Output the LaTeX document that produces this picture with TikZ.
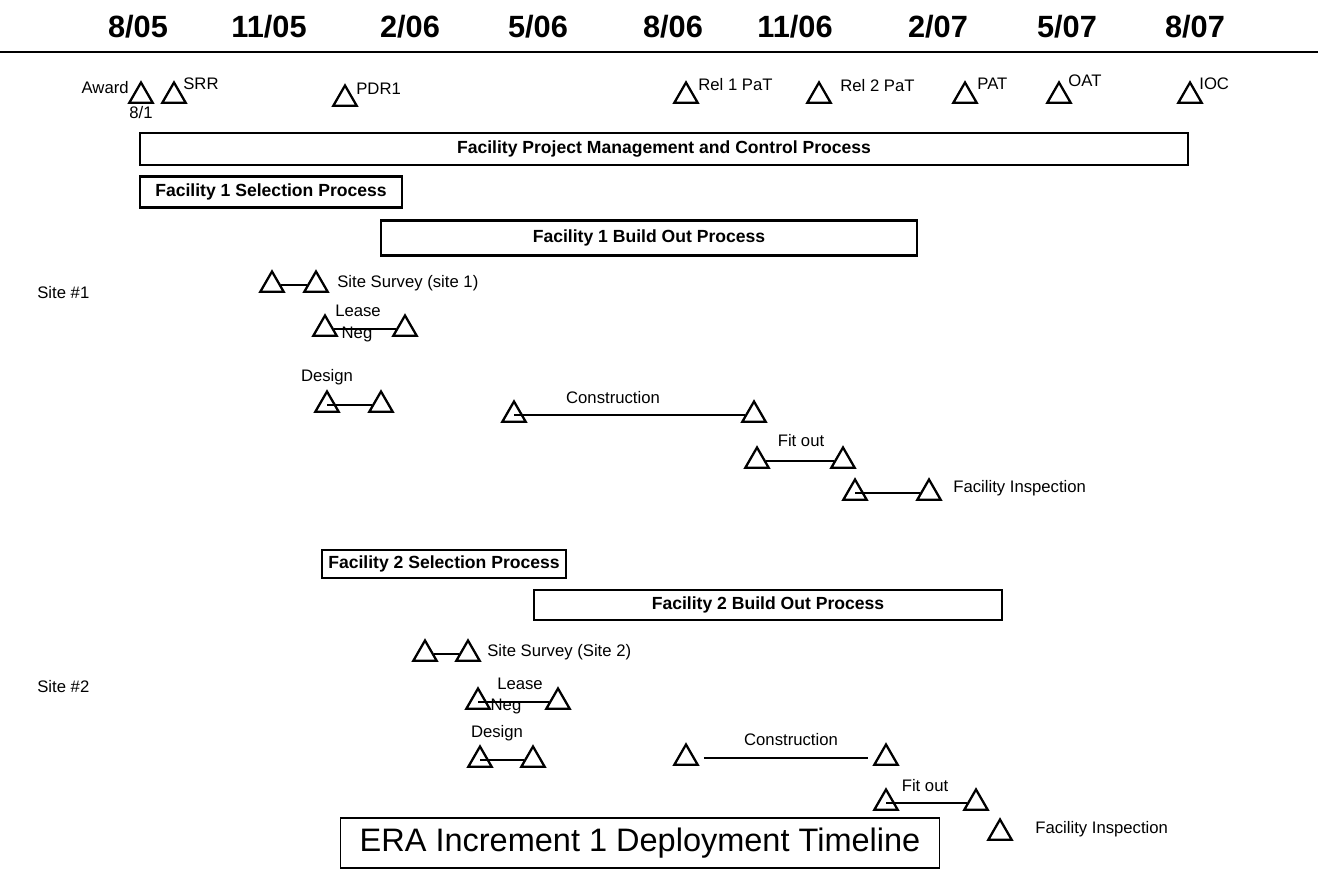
\documentclass[tikz,border=0pt]{standalone}
\usepackage{fontspec}
\setmainfont{Liberation Sans}
\usetikzlibrary{shapes.geometric}
\usetikzlibrary{positioning}
\tikzset{>=latex}

\begin{document}
\begin{tikzpicture}[x=0.02cm, y=-0.02cm,
		ms/.style={regular polygon, regular polygon sides=3, draw, line width=1.3pt, minimum size=0.54cm, inner sep=0pt, yshift=-0.06cm},
		lbl/.style={inner sep=0pt, font=\fontsize{9.5}{11}\selectfont},
		proc/.style={draw, line width=1.2pt, inner sep=0pt, font=\bfseries\fontsize{10}{12}\selectfont},
		date/.style={inner sep=0pt, font=\bfseries\fontsize{17.5}{20}\selectfont},
		bar/.style={line width=1pt}]
		\useasboundingbox (0,0) rectangle (1318,878);
		% time axis
		\node[date] (d1) at (138,27) {8/05};
		\node[date] (d2) at (269,27) {11/05};
		\node[date] (d3) at (410,27) {2/06};
		\node[date] (d4) at (538,27) {5/06};
		\node[date] (d5) at (673,27) {8/06};
		\node[date] (d6) at (795,27) {11/06};
		\node[date] (d7) at (938,27) {2/07};
		\node[date] (d8) at (1067,27) {5/07};
		\node[date] (d9) at (1195,27) {8/07};
		\coordinate (rl) at (0,52);
		\coordinate (rr) at (1318,52);
		\draw[line width=1.2pt] (rl) -- (rr);
		% milestones
		\node[ms] (aw) at (141,93) {};
		\node[ms] (srr) at (174,93) {};
		\node[ms] (pdr) at (345,96) {};
		\node[ms] (rel1) at (686,93) {};
		\node[ms] (rel2) at (819,93) {};
		\node[ms] (pat) at (965,93) {};
		\node[ms] (oat) at (1059,93) {};
		\node[ms] (ioc) at (1190,93) {};
		\node[lbl, anchor=east] (awl) at (129,88) {Award};
		\node[lbl] (awd) at (141,113) {8/1};
		\node[lbl, anchor=west] (srrl) at (183,84) {SRR};
		\node[lbl, anchor=west] (pdrl) at (356,89) {PDR1};
		\node[lbl, anchor=west] (rel1l) at (698,85) {Rel 1 PaT};
		\node[lbl, anchor=west] (rel2l) at (840,86) {Rel 2 PaT};
		\node[lbl, anchor=west] (patl) at (977,84) {PAT};
		\node[lbl, anchor=west] (oatl) at (1068,81) {OAT};
		\node[lbl, anchor=west] (iocl) at (1199,84) {IOC};
		% processes
		\node[proc, minimum width=20.96cm, minimum height=0.64cm] (pm) at (664,149) {Facility Project Management and Control Process};
		\node[proc, minimum width=5.24cm, minimum height=0.62cm] (f1s) at (271,192) {Facility 1 Selection Process};
		\node[proc, minimum width=10.72cm, minimum height=0.7cm] (f1b) at (649,238) {Facility 1 Build Out Process};
		\node[proc, minimum width=4.88cm, minimum height=0.56cm] (f2s) at (444,564) {Facility 2 Selection Process};
		\node[proc, minimum width=9.36cm, minimum height=0.6cm] (f2b) at (768,605) {Facility 2 Build Out Process};
		% site 1
		\node[lbl, anchor=west] (site1) at (37,293) {Site \#1};
		\node[ms] (ss1a) at (272,282) {};
		\node[ms] (ss1b) at (316,282) {};
		\node[lbl, anchor=west] (ss1l) at (337,283) {Site Survey (site 1)};
		\node[ms] (ln1a) at (325,326) {};
		\node[ms] (ln1b) at (405,326) {};
		\node[lbl] (ln1t) at (358,311) {Lease};
		\node[lbl] (ln1n) at (357,334) {Neg};
		\node[ms] (dg1a) at (327,402) {};
		\node[ms] (dg1b) at (381,402) {};
		\node[lbl] (dg1l) at (327,377) {Design};
		\node[ms] (cn1a) at (514,412) {};
		\node[ms] (cn1b) at (754,412) {};
		\node[lbl] (cn1l) at (613,398) {Construction};
		\node[ms] (fo1a) at (757,458) {};
		\node[ms] (fo1b) at (843,458) {};
		\node[lbl] (fo1l) at (801,441) {Fit out};
		\node[ms] (fi1a) at (855,490) {};
		\node[ms] (fi1b) at (929,490) {};
		\node[lbl, anchor=west] (fi1l) at (953,488) {Facility Inspection};
		% site 2
		\node[lbl, anchor=west] (site2) at (37,687) {Site \#2};
		\node[ms] (ss2a) at (425,651) {};
		\node[ms] (ss2b) at (468,651) {};
		\node[lbl, anchor=west] (ss2l) at (487,652) {Site Survey (Site 2)};
		\node[ms] (ln2a) at (478,699) {};
		\node[ms] (ln2b) at (558,699) {};
		\node[lbl] (ln2t) at (520,684) {Lease};
		\node[lbl] (ln2n) at (506,706) {Neg};
		\node[ms] (dg2a) at (480,757) {};
		\node[ms] (dg2b) at (533,757) {};
		\node[lbl] (dg2l) at (497,733) {Design};
		\node[ms] (cn2a) at (686,755) {};
		\node[ms] (cn2b) at (886,755) {};
		\node[lbl] (cn2l) at (791,740) {Construction};
		\node[ms] (fo2a) at (886,800) {};
		\node[ms] (fo2b) at (976,800) {};
		\node[lbl] (fo2l) at (925,786) {Fit out};
		\node[ms] (fi2) at (1000,830) {};
		\node[lbl, anchor=west] (fi2l) at (1035,829) {Facility Inspection};
		% title
		\node[draw, line width=1pt, minimum width=11.98cm, minimum height=1cm, font=\fontsize{18.5}{22}\selectfont] (ttl) at (640,843) {ERA Increment 1 Deployment Timeline};
		\path[bar]
			(ss1a) edge (ss1b)
			(ln1a) edge (ln1b)
			(dg1a.center) edge (dg1b)
			(cn1a.center) edge (cn1b)
			(fo1a) edge (fo1b)
			(fi1a.center) edge (fi1b)
			(ss2a) edge (ss2b)
			(ln2a.center) edge (ln2b)
			(dg2a.center) edge (dg2b)
			(fo2a.center) edge (fo2b);
		\draw[bar, shorten <=5pt, shorten >=5pt] (cn2a) -- (cn2b);
	\end{tikzpicture}
\end{document}
